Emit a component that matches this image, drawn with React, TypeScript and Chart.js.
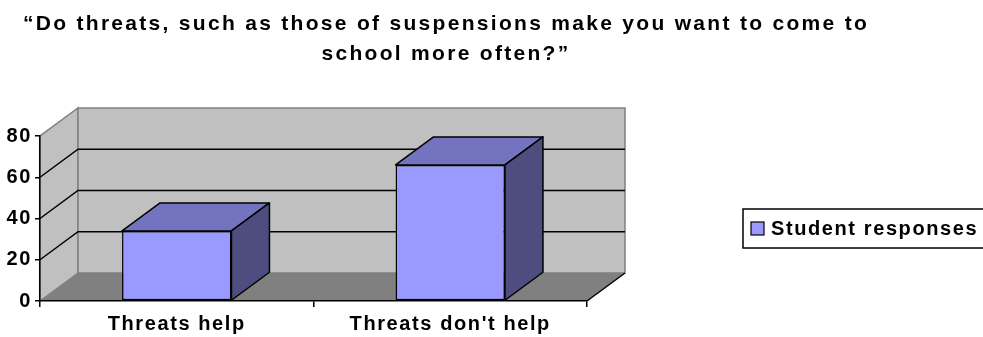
import React, { useEffect, useRef } from 'react';
import { Chart, registerables } from 'chart.js';

Chart.register(...registerables);

const categories = ['Threats help', "Threats don't help"];
const seriesLabel = 'Student responses';
const responses = [34, 66];
const yTicks = [0, 20, 40, 60, 80];
const titleLines = [
  '\u201cDo threats, such as those of suspensions make you want to come to',
  'school more often?\u201d',
];

const FONT = '"Liberation Sans", Arial, sans-serif';
const LABEL_SPACING = '1.6px';
const DX = 38;
const DY = -28;
const FRONT = '#9999FF';
const TOP = '#7373BF';
const SIDE = '#4D4D80';
const WALL = '#C0C0C0';
const FLOOR = '#808080';

export default function App() {
  const ref = useRef<HTMLCanvasElement>(null);

  useEffect(() => {
    const canvas = ref.current!;

    const plugin3d = {
      id: 'excel3d',
      beforeDraw(chart: any) {
        const { ctx, chartArea } = chart;
        const { left, right, top, bottom } = chartArea;
        const ys = chart.scales.y;
        ctx.save();
        ctx.letterSpacing = '0px';
        // side wall
        ctx.beginPath();
        ctx.moveTo(left, bottom);
        ctx.lineTo(left, top);
        ctx.lineTo(left + DX, top + DY);
        ctx.lineTo(left + DX, bottom + DY);
        ctx.closePath();
        ctx.fillStyle = WALL;
        ctx.fill();
        ctx.strokeStyle = FLOOR;
        ctx.lineWidth = 1.5;
        ctx.stroke();
        // back wall
        ctx.beginPath();
        ctx.rect(left + DX, top + DY, right - left, bottom - top);
        ctx.fillStyle = WALL;
        ctx.fill();
        ctx.stroke();
        // floor
        ctx.beginPath();
        ctx.moveTo(left, bottom);
        ctx.lineTo(right, bottom);
        ctx.lineTo(right + DX, bottom + DY);
        ctx.lineTo(left + DX, bottom + DY);
        ctx.closePath();
        ctx.fillStyle = FLOOR;
        ctx.fill();
        // floor right edge
        ctx.beginPath();
        ctx.moveTo(right, bottom);
        ctx.lineTo(right + DX, bottom + DY);
        ctx.strokeStyle = '#000';
        ctx.stroke();
        // gridlines
        yTicks.slice(1, -1).forEach((v) => {
          const py = ys.getPixelForValue(v);
          ctx.beginPath();
          ctx.moveTo(left, py);
          ctx.lineTo(left + DX, py + DY);
          ctx.lineTo(right + DX, py + DY);
          ctx.strokeStyle = '#000';
          ctx.lineWidth = 1.5;
          ctx.stroke();
        });
        ctx.restore();
        ctx.letterSpacing = LABEL_SPACING;
      },
      afterDatasetsDraw(chart: any) {
        const { ctx } = chart;
        const meta = chart.getDatasetMeta(0);
        ctx.save();
        ctx.lineWidth = 1.5;
        ctx.strokeStyle = '#000';
        ctx.lineJoin = 'round';
        meta.data.forEach((bar: any) => {
          const { x, y, base, width } = bar.getProps(['x', 'y', 'base', 'width'], true);
          const l = x - width / 2;
          const r = x + width / 2;
          ctx.beginPath();
          ctx.moveTo(l, y);
          ctx.lineTo(l + DX, y + DY);
          ctx.lineTo(r + DX, y + DY);
          ctx.lineTo(r, y);
          ctx.closePath();
          ctx.fillStyle = TOP;
          ctx.fill();
          ctx.stroke();
          ctx.beginPath();
          ctx.moveTo(r, y);
          ctx.lineTo(r + DX, y + DY);
          ctx.lineTo(r + DX, base + DY);
          ctx.lineTo(r, base);
          ctx.closePath();
          ctx.fillStyle = SIDE;
          ctx.fill();
          ctx.stroke();
        });
        ctx.restore();
      },
      afterDraw(chart: any) {
        const { ctx } = chart;
        ctx.save();
        // title
        ctx.fillStyle = '#000';
        ctx.font = `bold 21px ${FONT}`;
        ctx.letterSpacing = '2.3px';
        ctx.textAlign = 'center';
        ctx.textBaseline = 'alphabetic';
        ctx.fillText(titleLines[0], 446, 30);
        ctx.fillText(titleLines[1], 446, 60);
        // legend
        ctx.letterSpacing = '0px';
        ctx.lineWidth = 1.5;
        ctx.strokeStyle = '#000';
        ctx.strokeRect(743, 209, 260, 39);
        ctx.fillStyle = FRONT;
        ctx.fillRect(751, 222, 13, 13);
        ctx.lineWidth = 1.2;
        ctx.strokeRect(751, 222, 13, 13);
        ctx.fillStyle = '#000';
        ctx.font = `bold 20px ${FONT}`;
        ctx.letterSpacing = LABEL_SPACING;
        ctx.textAlign = 'left';
        ctx.textBaseline = 'middle';
        ctx.fillText(chart.data.datasets[0].label, 771, 229);
        ctx.restore();
        ctx.letterSpacing = '0px';
      },
    };

    const chart = new Chart(canvas, {
      type: 'bar',
      data: {
        labels: categories,
        datasets: [
          {
            label: seriesLabel,
            data: responses,
            backgroundColor: FRONT,
            borderColor: '#000',
            borderWidth: 1.5,
            borderSkipped: false,
            barPercentage: 1,
            categoryPercentage: 0.4,
          },
        ],
      },
      options: {
        animation: false,
        responsive: false,
        maintainAspectRatio: false,
        devicePixelRatio: 1,
        layout: { padding: { left: 0, right: 396, top: 136, bottom: 0 } },
        plugins: {
          legend: { display: false },
          title: { display: false },
          tooltip: { enabled: false },
        },
        scales: {
          x: {
            offset: true,
            grid: {
              offset: true,
              drawOnChartArea: false,
              drawTicks: true,
              tickLength: 6,
              color: '#000',
              lineWidth: 1.5,
            },
            border: { display: true, color: '#000', width: 1.5 },
            ticks: {
              color: '#000',
              font: { family: FONT, size: 20, weight: 'bold' },
              padding: 5,
              maxRotation: 0,
              autoSkip: false,
            },
            afterFit: (s: any) => {
              s.height = 36;
            },
          },
          y: {
            min: 0,
            max: 80,
            afterBuildTicks: (s: any) => {
              s.ticks = yTicks.map((v) => ({ value: v }));
            },
            grid: {
              drawOnChartArea: false,
              drawTicks: true,
              tickLength: 5,
              color: '#000',
              lineWidth: 1.5,
            },
            border: { display: true, color: '#000', width: 1.5 },
            ticks: {
              color: '#000',
              font: { family: FONT, size: 20, weight: 'bold' },
              padding: 3,
            },
            afterFit: (s: any) => {
              s.width = 40;
            },
          },
        },
      },
      plugins: [plugin3d],
    });

    return () => chart.destroy();
  }, []);

  return (
    <div style={{ position: 'fixed', left: 0, top: 0, width: 983, height: 337, background: '#fff' }}>
      <canvas ref={ref} width={983} height={337} style={{ display: 'block', width: 983, height: 337 }} />
    </div>
  );
}
